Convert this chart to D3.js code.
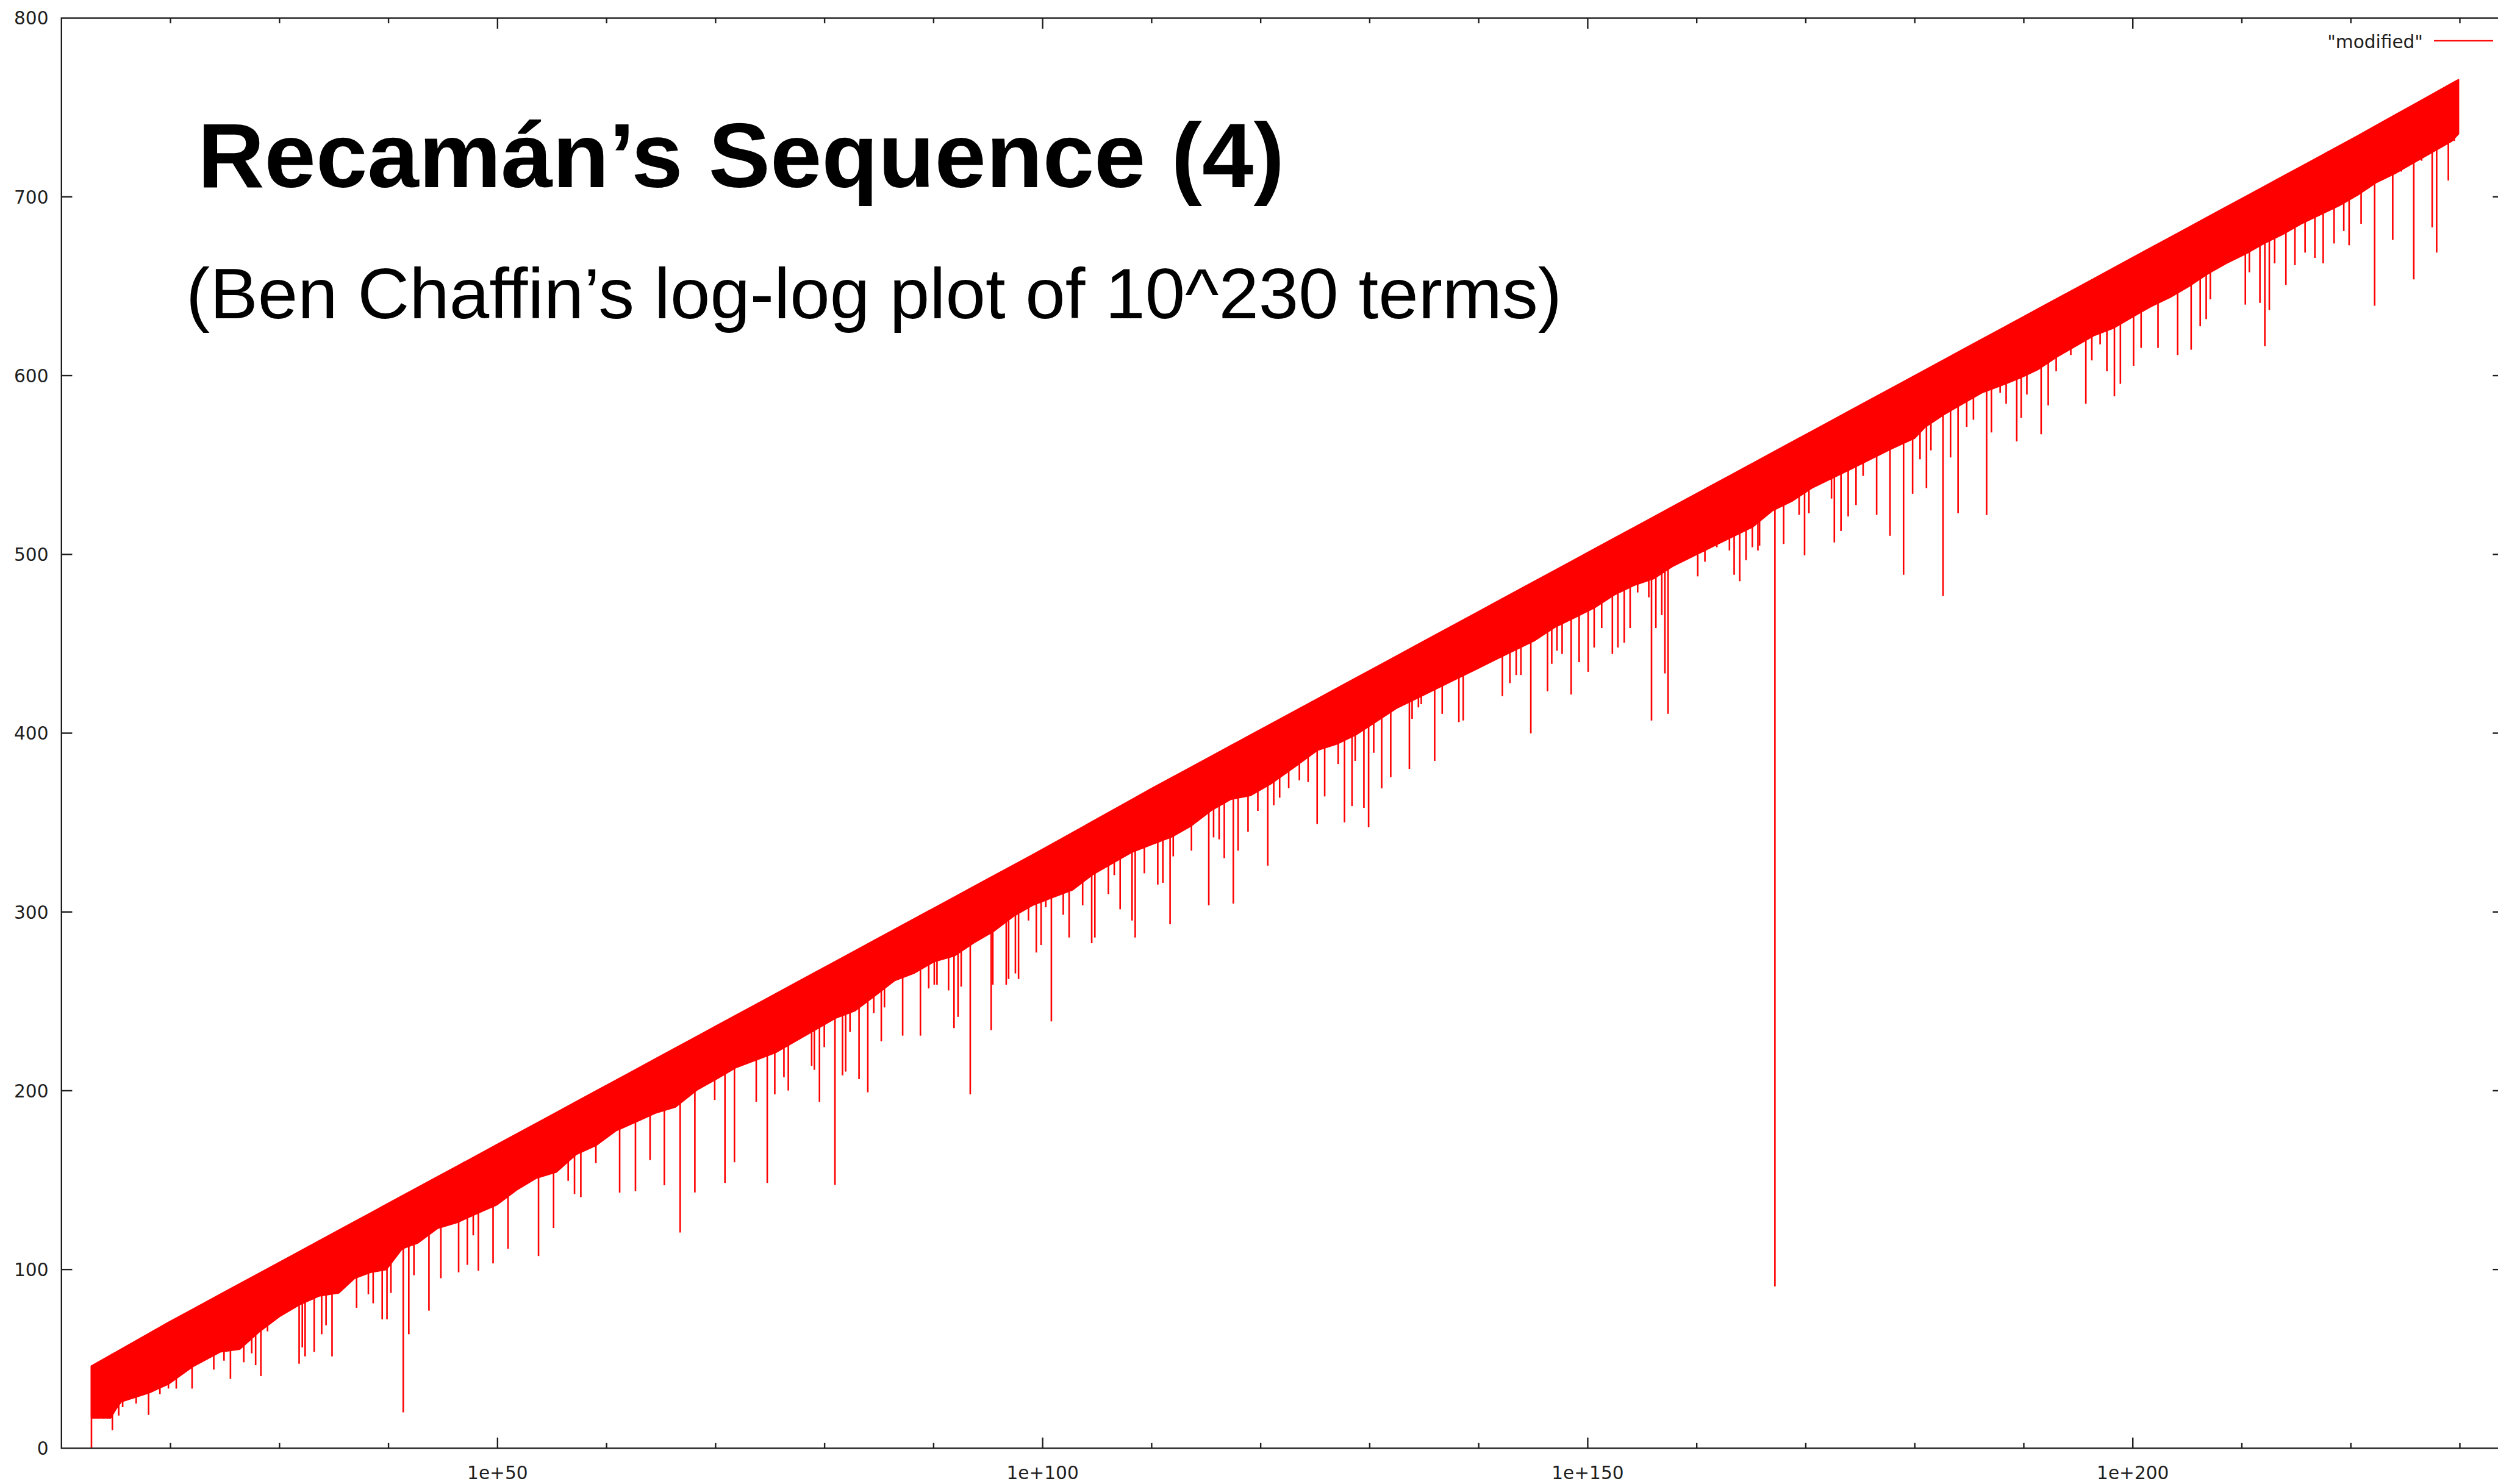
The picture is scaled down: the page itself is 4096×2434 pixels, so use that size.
<!DOCTYPE html>
<html>
<head>
<meta charset="utf-8">
<script src="https://cdn.jsdelivr.net/npm/d3@7"></script>
<style>
  html, body { margin: 0; padding: 0; background: #ffffff; }
  svg { display: block; }
</style>
</head>
<body>
<svg id="chart" width="4096" height="2434"></svg>
<script>
// ---- Data (x values are decimal exponents of n, y is the plotted value) ----

// Upper edge of the sequence's band
const topExp = [12.75, 20, 30, 40, 50, 60, 70, 80, 90, 100, 110, 120, 130, 140, 150, 160, 170, 180, 190, 200, 210, 220, 229.87];
const topVal = [46, 71, 104, 137, 170, 203, 236, 269, 302, 335, 369, 402, 435, 468, 501, 534, 567, 600, 633, 666, 699, 732, 765.5];

// Lower edge of the densely filled part of the band
const floorExp = [12.75, 14.50, 15.00, 15.47, 18.01, 19.83, 22.01, 24.55, 26.36, 28.18, 29.99, 31.80, 33.62, 35.43, 36.88, 38.34, 39.79, 41.24, 42.69, 44.50, 46.32, 48.13, 49.95, 51.76, 53.58, 55.39, 57.21, 59.02, 60.84, 62.65, 64.47, 66.28,
  68.28, 70.10, 71.91, 73.73, 75.54, 77.36, 79.17, 80.99, 82.80, 84.62, 86.43, 88.24, 90.06, 91.87, 93.69, 95.50, 97.32, 99.13, 100.95, 102.76, 104.58, 106.39, 108.20, 110.02, 111.83, 113.65, 115.46, 117.28, 119.09, 120.91, 123.08,
  125.18, 127.00, 128.81, 130.63, 132.44, 134.26, 136.07, 137.89, 139.70, 141.52, 143.33, 145.14, 146.96, 148.77, 150.59, 152.40, 154.22, 156.03, 157.85, 159.66, 161.47, 163.29, 165.10, 166.92, 168.73, 170.55, 172.36, 174.18, 175.99, 177.81,
  179.98, 180.96, 182.69, 184.41, 186.14, 187.86, 189.59, 191.31, 193.04, 194.76, 196.49, 198.21, 199.93, 201.66, 203.38, 205.11, 206.83, 208.56, 210.28, 212.01, 213.73, 215.45, 217.18, 218.90, 220.63, 222.35, 224.08, 225.80, 227.53, 229.25, 229.87];
const floorVal = [17.0, 17.0, 22.0, 26.0, 31.0, 36.0, 45.6, 53.9, 55.5, 65.4, 73.7, 80.2, 85.2, 86.9, 95.1, 98.4, 100.0, 111.6, 114.9, 123.1, 126.4, 131.4, 136.3, 144.6, 151.2, 154.5, 164.4, 169.4, 177.6, 182.5, 187.5, 190.8,
  200.4, 206.7, 213.1, 217.3, 221.5, 227.9, 234.2, 240.6, 244.8, 253.2, 261.7, 265.9, 272.3, 275.4, 282.8, 289.2, 297.6, 303.9, 308.2, 312.4, 320.9, 327.2, 333.5, 337.8, 342.0, 348.3, 356.8, 363.1, 365.2, 371.6, 381.0,
  390.4, 394.0, 399.4, 406.7, 413.9, 419.3, 424.8, 430.2, 435.6, 441.1, 446.5, 451.9, 459.2, 464.6, 470.1, 477.3, 482.7, 486.4, 493.6, 499.0, 504.5, 509.9, 515.3, 524.4, 529.8, 537.1, 542.5, 547.9, 553.4, 559.0,
  565.0, 571.3, 578.3, 584.4, 590.4, 594.4, 598.5, 603.5, 610.5, 616.6, 622.6, 626.6, 632.7, 638.7, 643.7, 649.8, 656.8, 662.8, 667.9, 673.9, 679.0, 685.0, 690.0, 695.0, 701.1, 708.1, 713.2, 719.2, 725.2, 731.2, 735.3];

// Individual downward excursions: position and lowest value reached
const spikeExp = [12.75, 13.01, 13.33, 13.85, 14.22, 14.47, 14.67, 15.25, 15.61, 16.85, 17.99, 19.03, 19.81, 20.53, 21.98, 23.97, 24.91, 25.50, 26.72, 27.45, 27.81, 28.29, 28.90, 31.80, 32.09, 32.35, 33.18, 33.87, 34.27, 34.82, 37.07, 38.15, 38.59, 39.42, 39.86, 40.22, 41.35, 41.86, 42.33, 43.71, 44.80, 46.43, 47.23, 47.77, 48.24, 49.59, 50.96, 53.76, 55.14, 56.48, 57.06, 57.64, 59.02, 61.20, 62.65, 63.99, 65.30, 66.75,
  68.10, 69.92, 70.86, 71.73, 73.73, 74.74, 75.43, 76.27, 76.67, 78.81, 79.06, 79.53, 79.97, 80.95, 81.64, 81.93, 82.33, 83.16, 83.96, 84.51, 85.20, 85.49, 87.16, 88.79, 89.55, 90.06, 90.31, 91.37, 91.87, 92.24, 92.53, 93.36, 95.28, 95.43, 96.66, 96.88, 97.50, 97.79, 98.70, 99.42, 99.86, 100.29, 100.80, 101.89, 102.43, 103.67, 104.50, 104.79, 106.03, 106.57, 107.11, 108.20, 108.49, 109.33, 110.56, 111.03, 111.69, 111.98, 113.65, 115.24, 115.68, 116.19, 116.66, 117.49, 117.93, 118.84, 119.74, 120.65, 121.20, 121.74, 122.57,
  123.55, 124.35, 125.18, 125.87, 127.11, 127.69, 128.38, 128.67, 129.47, 129.90, 130.37, 131.10, 131.93, 133.64, 133.89, 134.47, 134.73, 135.96, 136.65, 138.18, 138.58, 142.17, 142.86, 143.44, 143.87, 144.78, 146.31, 146.70, 147.18, 147.65, 148.48, 149.21, 150.04, 150.59, 151.28, 152.26, 152.77, 153.35, 153.89, 154.58, 155.60, 155.85, 156.25, 156.79, 157.08, 157.37, 160.09, 160.75, 161.84, 163.00, 163.43, 163.94, 164.52, 165.10, 165.61, 165.76, 167.17, 167.97, 169.39, 169.89, 170.29, 172.36, 172.62, 173.23, 173.89, 174.61, 175.26, 176.50, 177.73, 178.97, 179.80,
  180.48, 181.07, 181.48, 182.59, 183.28, 183.97, 184.76, 185.38, 186.59, 187.03, 187.83, 188.38, 189.35, 189.76, 190.28, 191.59, 192.24, 192.97, 194.31, 195.69, 196.24, 197.00, 197.62, 198.31, 198.86, 200.07, 200.76, 202.31, 204.11, 205.35, 206.18, 206.73, 207.11, 210.32, 210.69, 211.66, 212.11, 212.52, 213.01, 214.04, 214.87, 215.80, 216.70, 217.46, 218.46, 219.35, 219.84, 220.94, 222.18, 223.84, 224.63, 225.77, 226.49, 227.46, 227.87, 228.94, 229.49];
const spikeVal = [0, 16.7, 16.7, 16.7, 16.7, 16.7, 10.1, 18.3, 23.0, 25.0, 18.6, 30.3, 33.4, 33.4, 33.4, 44.0, 49.0, 38.8, 48.1, 53.1, 46.5, 40.4, 65.4, 47.3, 56.4, 51.4, 53.9, 63.8, 68.8, 51.4, 78.6, 86.1, 81.1, 72.1, 72.1, 86.9, 20.1, 63.8, 96.8, 77.0, 95.1, 98.4, 102.6, 119.1, 99.3, 103.4, 111.6, 107.5, 123.2, 149.6, 142.2, 140.5, 159.5, 143.0, 143.8, 161.2, 147.1, 120.7,
  143.1, 194.8, 148.4, 160.0, 193.8, 148.4, 198.0, 207.5, 200.1, 213.9, 211.7, 193.8, 224.4, 147.3, 208.6, 210.7, 232.9, 206.5, 199.1, 243.4, 227.6, 246.6, 230.8, 230.8, 257.2, 259.3, 259.3, 256.1, 235.0, 241.3, 258.2, 198.0, 233.9, 259.3, 259.3, 262.5, 265.6, 262.5, 295.2, 277.3, 281.5, 302.6, 238.8, 298.4, 285.7, 303.7, 282.5, 285.7, 310.0, 320.6, 301.5, 295.2, 285.7, 321.6, 315.3, 316.3, 293.1, 331.1, 334.3, 303.7, 341.7, 340.6, 330.1, 304.7, 334.3, 344.9, 356.5, 325.9, 359.7, 363.9, 369.2,
  373.6, 372.7, 349.2, 364.6, 382.7, 350.1, 359.2, 384.5, 358.2, 347.4, 389.0, 369.1, 375.4, 380.0, 408.0, 414.4, 416.2, 384.5, 410.8, 406.2, 407.1, 420.7, 428.0, 432.5, 432.5, 399.9, 423.4, 438.8, 446.1, 444.3, 421.6, 439.7, 434.3, 447.9, 458.8, 444.3, 447.9, 450.6, 458.8, 478.7, 476.0, 407.1, 458.8, 466.0, 433.4, 410.8, 487.7, 495.9, 504.0, 502.2, 488.6, 485.0, 496.8, 504.0, 502.2, 504.9, 90.5, 505.8, 522.1, 499.5, 523.0, 531.2, 506.7, 513.1, 521.2, 527.6, 543.9, 522.1, 510.4, 488.6, 533.9,
  553.2, 537.1, 558.2, 476.7, 554.2, 523.0, 571.3, 575.3, 522.0, 568.2, 590.4, 584.3, 563.2, 576.3, 589.4, 567.2, 583.3, 602.4, 611.5, 584.3, 608.5, 617.5, 602.4, 588.4, 595.4, 605.5, 615.5, 615.5, 611.5, 614.5, 627.6, 631.6, 642.7, 639.7, 657.8, 640.7, 616.5, 636.7, 662.8, 650.7, 661.8, 668.8, 665.8, 662.8, 673.9, 680.9, 672.9, 684.9, 639.1, 675.9, 714.1, 653.8, 720.2, 682.9, 668.8, 709.1, 731.2];

// Axis ticks
const yTicks = [0, 100, 200, 300, 400, 500, 600, 700, 800];
const xMajorExp = [50, 100, 150, 200];
const xMajorLabels = ["1e+50", "1e+100", "1e+150", "1e+200"];
const xMinorExp = [20, 30, 40, 60, 70, 80, 90, 110, 120, 130, 140, 160, 170, 180, 190, 210, 220, 230];

// Texts
const titleText = "Recamán\u2019s Sequence (4)";
const subtitleText = "(Ben Chaffin\u2019s log-log plot of 10^230 terms)";
const seriesName = "\"modified\"";

// ---- Layout ----
const W = 4096, H = 2434;
const plot = { left: 100.8, top: 29.6, right: 4105, bottom: 2375.4 };
const RED = "#ff0000";
const INK = "#1e1e1e";
const tickFont = "'DejaVu Sans', Verdana, sans-serif";
const tickSize = 29.6;

const svg = d3.select("#chart");
svg.append("rect").attr("width", W).attr("height", H).attr("fill", "#fff");

const x = d3.scaleLog().domain([1e10, 1e234]).range([plot.left, plot.right]);
const y = d3.scaleLinear().domain([0, 800]).range([plot.bottom, plot.top]);
const px = e => x(Math.pow(10, e));
const topAt = d3.scaleLinear().domain(topExp).range(topVal);

// clip to the plotting area
svg.append("defs").append("clipPath").attr("id", "plotClip")
  .append("rect")
  .attr("x", plot.left).attr("y", plot.top)
  .attr("width", plot.right - plot.left).attr("height", plot.bottom - plot.top);

const g = svg.append("g").attr("clip-path", "url(#plotClip)");

// dense band between lower edge and upper edge
const band = floorExp.map((e, i) => ({ e, lo: floorVal[i], hi: topAt(e) }));
const area = d3.area()
  .x(d => px(d.e))
  .y0(d => y(d.lo))
  .y1(d => y(d.hi));
g.append("path")
  .datum(band)
  .attr("d", area)
  .attr("fill", RED)
  .attr("stroke", RED)
  .attr("stroke-width", 2.5)
  .attr("stroke-linejoin", "round");

// downward excursions
const spikes = spikeExp.map((e, i) => ({ e, v: spikeVal[i] }));
g.selectAll("line.spike")
  .data(spikes)
  .join("line")
  .attr("class", "spike")
  .attr("x1", d => px(d.e)).attr("x2", d => px(d.e))
  .attr("y1", d => y(topAt(d.e)))
  .attr("y2", d => y(d.v))
  .attr("stroke", RED)
  .attr("stroke-width", 2.6);

// ---- Frame and ticks ----
const frame = svg.append("g");
frame.append("rect")
  .attr("x", plot.left).attr("y", plot.top)
  .attr("width", plot.right - plot.left).attr("height", plot.bottom - plot.top)
  .attr("fill", "none").attr("stroke", INK).attr("stroke-width", 2.4);

const majorLen = 17.6, minorLen = 8.6;

// y ticks (inward, both sides)
frame.selectAll("line.ytick")
  .data(yTicks.slice(1, -1))
  .join("line")
  .attr("class", "ytick")
  .attr("x1", plot.left).attr("x2", plot.left + majorLen)
  .attr("y1", d => y(d)).attr("y2", d => y(d))
  .attr("stroke", INK).attr("stroke-width", 2.4);
frame.selectAll("line.ytickR")
  .data(yTicks.slice(1, -1))
  .join("line")
  .attr("class", "ytickR")
  .attr("x1", plot.right).attr("x2", plot.right - majorLen)
  .attr("y1", d => y(d)).attr("y2", d => y(d))
  .attr("stroke", INK).attr("stroke-width", 2.4);

// x ticks: bottom and mirrored on top
function xTicks(cls, list, len) {
  frame.selectAll("line." + cls + "b")
    .data(list).join("line").attr("class", cls + "b")
    .attr("x1", d => px(d)).attr("x2", d => px(d))
    .attr("y1", plot.bottom).attr("y2", plot.bottom - len)
    .attr("stroke", INK).attr("stroke-width", 2.4);
  frame.selectAll("line." + cls + "t")
    .data(list).join("line").attr("class", cls + "t")
    .attr("x1", d => px(d)).attr("x2", d => px(d))
    .attr("y1", plot.top).attr("y2", plot.top + len)
    .attr("stroke", INK).attr("stroke-width", 2.4);
}
xTicks("xmaj", xMajorExp, majorLen);
xTicks("xmin", xMinorExp, minorLen);

// tick labels
svg.append("g").selectAll("text")
  .data(yTicks)
  .join("text")
  .attr("x", 79.5)
  .attr("y", d => y(d) + 10.8)
  .attr("text-anchor", "end")
  .attr("font-family", tickFont)
  .attr("font-size", tickSize)
  .attr("fill", INK)
  .text(d => d);

svg.append("g").selectAll("text")
  .data(xMajorExp)
  .join("text")
  .attr("x", d => px(d))
  .attr("y", 2426)
  .attr("text-anchor", "middle")
  .attr("font-family", tickFont)
  .attr("font-size", tickSize)
  .attr("fill", INK)
  .text((d, i) => xMajorLabels[i]);

// key
svg.append("text")
  .attr("x", 3973).attr("y", 78.6)
  .attr("text-anchor", "end")
  .attr("font-family", tickFont)
  .attr("font-size", tickSize)
  .attr("fill", INK)
  .text(seriesName);
svg.append("line")
  .attr("x1", 3991).attr("x2", 4088)
  .attr("y1", 66.9).attr("y2", 66.9)
  .attr("stroke", RED).attr("stroke-width", 2.2);

// ---- Titles ----
svg.append("text")
  .attr("x", 324).attr("y", 307)
  .attr("font-family", "'Liberation Sans', Arial, Helvetica, sans-serif")
  .attr("font-weight", "bold")
  .attr("font-size", 150)
  .attr("textLength", 1782)
  .attr("lengthAdjust", "spacingAndGlyphs")
  .attr("fill", "#000")
  .text(titleText);

svg.append("text")
  .attr("x", 305).attr("y", 522)
  .attr("font-family", "'Liberation Sans', Arial, Helvetica, sans-serif")
  .attr("font-size", 117)
  .attr("textLength", 2256)
  .attr("lengthAdjust", "spacingAndGlyphs")
  .attr("fill", "#000")
  .text(subtitleText);
</script>
</body>
</html>
